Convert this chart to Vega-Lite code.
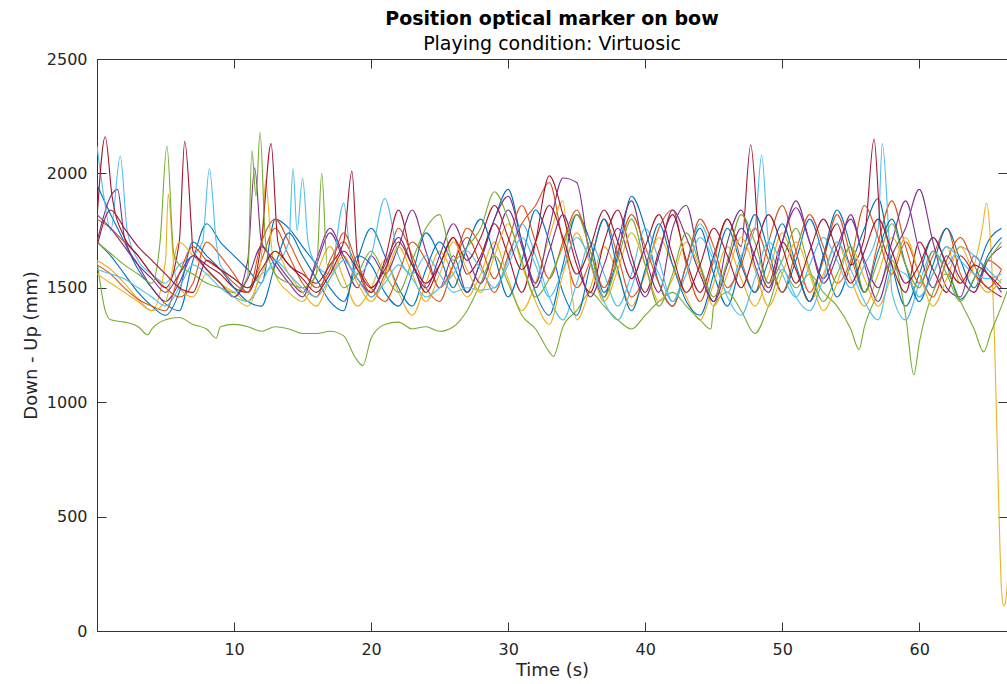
{
"$schema":"https://vega.github.io/schema/vega-lite/v6.json",
"width":910,"height":572,
"autosize":{"type":"none"},
"padding":{"left":97,"top":59,"right":0,"bottom":53},
"background":"white",
"title":{"text":"Position optical marker on bow","subtitle":"Playing condition: Virtuosic","font":"DejaVu Sans","fontSize":19,"fontWeight":"bold","color":"#000000","subtitleFont":"DejaVu Sans","subtitleFontSize":19,"subtitleColor":"#000000","anchor":"middle","frame":"group","offset":-3,"subtitlePadding":6},
"config":{"view":{"stroke":"#333333","strokeWidth":1},"axis":{"grid":false,"labelFont":"DejaVu Sans","labelFontSize":16,"titleFont":"DejaVu Sans","titleFontSize":18,"titleFontWeight":"normal","labelColor":"#262626","titleColor":"#262626","domainColor":"#333333","tickColor":"#333333"}},
"data":{"values":[
{"s":1,"t":0,"v":1950},{"s":1,"t":1,"v":1820},{"s":1,"t":2,"v":1700},{"s":1,"t":3,"v":1580},{"s":1,"t":4,"v":1500},{"s":1,"t":5,"v":1430},{"s":1,"t":6,"v":1400},{"s":1,"t":7,"v":1620},{"s":1,"t":8,"v":1780},{"s":1,"t":9,"v":1700},{"s":1,"t":10,"v":1640},{"s":1,"t":11,"v":1580},{"s":1,"t":12,"v":1520},{"s":1,"t":13,"v":1800},{"s":1,"t":14,"v":1760},{"s":1,"t":15,"v":1680},{"s":1,"t":16,"v":1600},{"s":1,"t":17,"v":1500},{"s":1,"t":18,"v":1440},{"s":1,"t":19,"v":1620},{"s":1,"t":20,"v":1760},{"s":1,"t":21,"v":1640},{"s":1,"t":22,"v":1500},{"s":1,"t":23,"v":1420},{"s":1,"t":24,"v":1580},{"s":1,"t":25,"v":1700},{"s":1,"t":26,"v":1600},{"s":1,"t":27,"v":1480},{"s":1,"t":28,"v":1620},{"s":1,"t":29,"v":1800},{"s":1,"t":30,"v":1930},{"s":1,"t":31,"v":1700},{"s":1,"t":32,"v":1480},{"s":1,"t":33,"v":1380},{"s":1,"t":34,"v":1600},{"s":1,"t":35,"v":1820},{"s":1,"t":36,"v":1700},{"s":1,"t":37,"v":1480},{"s":1,"t":38,"v":1640},{"s":1,"t":39,"v":1900},{"s":1,"t":40,"v":1760},{"s":1,"t":41,"v":1520},{"s":1,"t":42,"v":1420},{"s":1,"t":43,"v":1600},{"s":1,"t":44,"v":1760},{"s":1,"t":45,"v":1560},{"s":1,"t":46,"v":1420},{"s":1,"t":47,"v":1620},{"s":1,"t":48,"v":1820},{"s":1,"t":49,"v":1660},{"s":1,"t":50,"v":1480},{"s":1,"t":51,"v":1620},{"s":1,"t":52,"v":1800},{"s":1,"t":53,"v":1640},{"s":1,"t":54,"v":1460},{"s":1,"t":55,"v":1600},{"s":1,"t":56,"v":1760},{"s":1,"t":57,"v":1890},{"s":1,"t":58,"v":1600},{"s":1,"t":59,"v":1420},{"s":1,"t":60,"v":1560},{"s":1,"t":61,"v":1720},{"s":1,"t":62,"v":1600},{"s":1,"t":63,"v":1450},{"s":1,"t":64,"v":1540},{"s":1,"t":65,"v":1700},{"s":1,"t":66,"v":1760},
{"s":2,"t":0,"v":1800},{"s":2,"t":1,"v":1760},{"s":2,"t":2,"v":1700},{"s":2,"t":3,"v":1640},{"s":2,"t":4,"v":1560},{"s":2,"t":5,"v":1500},{"s":2,"t":6,"v":1460},{"s":2,"t":7,"v":1520},{"s":2,"t":8,"v":1700},{"s":2,"t":9,"v":1640},{"s":2,"t":10,"v":1560},{"s":2,"t":11,"v":1480},{"s":2,"t":12,"v":1620},{"s":2,"t":13,"v":1760},{"s":2,"t":14,"v":1640},{"s":2,"t":15,"v":1520},{"s":2,"t":16,"v":1460},{"s":2,"t":17,"v":1620},{"s":2,"t":18,"v":1700},{"s":2,"t":19,"v":1580},{"s":2,"t":20,"v":1460},{"s":2,"t":21,"v":1560},{"s":2,"t":22,"v":1760},{"s":2,"t":23,"v":1640},{"s":2,"t":24,"v":1500},{"s":2,"t":25,"v":1440},{"s":2,"t":26,"v":1600},{"s":2,"t":27,"v":1720},{"s":2,"t":28,"v":1600},{"s":2,"t":29,"v":1480},{"s":2,"t":30,"v":1640},{"s":2,"t":31,"v":1780},{"s":2,"t":32,"v":1860},{"s":2,"t":33,"v":1960},{"s":2,"t":34,"v":1700},{"s":2,"t":35,"v":1500},{"s":2,"t":36,"v":1620},{"s":2,"t":37,"v":1800},{"s":2,"t":38,"v":1640},{"s":2,"t":39,"v":1460},{"s":2,"t":40,"v":1560},{"s":2,"t":41,"v":1760},{"s":2,"t":42,"v":1840},{"s":2,"t":43,"v":1600},{"s":2,"t":44,"v":1440},{"s":2,"t":45,"v":1620},{"s":2,"t":46,"v":1800},{"s":2,"t":47,"v":1620},{"s":2,"t":48,"v":1480},{"s":2,"t":49,"v":1700},{"s":2,"t":50,"v":1860},{"s":2,"t":51,"v":1660},{"s":2,"t":52,"v":1480},{"s":2,"t":53,"v":1620},{"s":2,"t":54,"v":1820},{"s":2,"t":55,"v":1640},{"s":2,"t":56,"v":1480},{"s":2,"t":57,"v":1700},{"s":2,"t":58,"v":1880},{"s":2,"t":59,"v":1680},{"s":2,"t":60,"v":1520},{"s":2,"t":61,"v":1640},{"s":2,"t":62,"v":1760},{"s":2,"t":63,"v":1560},{"s":2,"t":64,"v":1480},{"s":2,"t":65,"v":1620},{"s":2,"t":66,"v":1580},
{"s":3,"t":0,"v":1620},{"s":3,"t":1,"v":1580},{"s":3,"t":2,"v":1520},{"s":3,"t":3,"v":1450},{"s":3,"t":4,"v":1400},{"s":3,"t":5,"v":1620},{"s":3,"t":5.2,"v":1910},{"s":3,"t":5.6,"v":1600},{"s":3,"t":6,"v":1500},{"s":3,"t":7,"v":1460},{"s":3,"t":8,"v":1560},{"s":3,"t":9,"v":1520},{"s":3,"t":10,"v":1460},{"s":3,"t":11,"v":1420},{"s":3,"t":12,"v":1640},{"s":3,"t":12.3,"v":1970},{"s":3,"t":12.7,"v":1700},{"s":3,"t":13,"v":1560},{"s":3,"t":14,"v":1480},{"s":3,"t":15,"v":1440},{"s":3,"t":16,"v":1560},{"s":3,"t":17,"v":1680},{"s":3,"t":18,"v":1540},{"s":3,"t":19,"v":1420},{"s":3,"t":20,"v":1500},{"s":3,"t":21,"v":1620},{"s":3,"t":22,"v":1480},{"s":3,"t":23,"v":1380},{"s":3,"t":24,"v":1520},{"s":3,"t":25,"v":1660},{"s":3,"t":26,"v":1560},{"s":3,"t":27,"v":1460},{"s":3,"t":28,"v":1560},{"s":3,"t":29,"v":1700},{"s":3,"t":30,"v":1540},{"s":3,"t":31,"v":1400},{"s":3,"t":32,"v":1520},{"s":3,"t":33,"v":1720},{"s":3,"t":34,"v":1880},{"s":3,"t":34.5,"v":1560},{"s":3,"t":35,"v":1360},{"s":3,"t":36,"v":1500},{"s":3,"t":37,"v":1680},{"s":3,"t":38,"v":1560},{"s":3,"t":39,"v":1420},{"s":3,"t":40,"v":1560},{"s":3,"t":41,"v":1720},{"s":3,"t":42,"v":1600},{"s":3,"t":43,"v":1460},{"s":3,"t":44,"v":1360},{"s":3,"t":45,"v":1520},{"s":3,"t":46,"v":1680},{"s":3,"t":47,"v":1540},{"s":3,"t":48,"v":1420},{"s":3,"t":49,"v":1560},{"s":3,"t":50,"v":1740},{"s":3,"t":51,"v":1580},{"s":3,"t":52,"v":1440},{"s":3,"t":53,"v":1560},{"s":3,"t":54,"v":1700},{"s":3,"t":55,"v":1540},{"s":3,"t":56,"v":1420},{"s":3,"t":57,"v":1560},{"s":3,"t":58,"v":1720},{"s":3,"t":59,"v":1600},{"s":3,"t":60,"v":1460},{"s":3,"t":61,"v":1560},{"s":3,"t":62,"v":1680},{"s":3,"t":63,"v":1520},{"s":3,"t":64,"v":1600},{"s":3,"t":64.6,"v":1760},{"s":3,"t":64.9,"v":1870},{"s":3,"t":65.2,"v":1700},{"s":3,"t":65.5,"v":1250},{"s":3,"t":65.8,"v":550},{"s":3,"t":66,"v":180},{"s":3,"t":66.15,"v":110},{"s":3,"t":66.3,"v":130},{"s":3,"t":66.5,"v":300},{"s":3,"t":66.7,"v":700},
{"s":4,"t":0,"v":1700},{"s":4,"t":1,"v":1900},{"s":4,"t":1.5,"v":1930},{"s":4,"t":2,"v":1720},{"s":4,"t":3,"v":1600},{"s":4,"t":4,"v":1500},{"s":4,"t":5,"v":1440},{"s":4,"t":6,"v":1520},{"s":4,"t":7,"v":1640},{"s":4,"t":8,"v":1580},{"s":4,"t":9,"v":1520},{"s":4,"t":10,"v":1460},{"s":4,"t":11,"v":1620},{"s":4,"t":11.5,"v":2025},{"s":4,"t":12,"v":1700},{"s":4,"t":13,"v":1620},{"s":4,"t":14,"v":1540},{"s":4,"t":15,"v":1480},{"s":4,"t":16,"v":1600},{"s":4,"t":17,"v":1740},{"s":4,"t":18,"v":1620},{"s":4,"t":19,"v":1500},{"s":4,"t":20,"v":1640},{"s":4,"t":21,"v":1560},{"s":4,"t":22,"v":1680},{"s":4,"t":23,"v":1840},{"s":4,"t":24,"v":1660},{"s":4,"t":25,"v":1500},{"s":4,"t":26,"v":1640},{"s":4,"t":27,"v":1480},{"s":4,"t":28,"v":1620},{"s":4,"t":29,"v":1800},{"s":4,"t":30,"v":1900},{"s":4,"t":31,"v":1700},{"s":4,"t":32,"v":1520},{"s":4,"t":33,"v":1760},{"s":4,"t":34,"v":1980},{"s":4,"t":35,"v":1960},{"s":4,"t":36,"v":1620},{"s":4,"t":37,"v":1460},{"s":4,"t":38,"v":1700},{"s":4,"t":39,"v":1880},{"s":4,"t":40,"v":1640},{"s":4,"t":41,"v":1480},{"s":4,"t":42,"v":1760},{"s":4,"t":43,"v":1860},{"s":4,"t":44,"v":1600},{"s":4,"t":45,"v":1440},{"s":4,"t":46,"v":1700},{"s":4,"t":47,"v":1840},{"s":4,"t":48,"v":1600},{"s":4,"t":49,"v":1480},{"s":4,"t":50,"v":1700},{"s":4,"t":51,"v":1880},{"s":4,"t":52,"v":1700},{"s":4,"t":53,"v":1520},{"s":4,"t":54,"v":1640},{"s":4,"t":55,"v":1820},{"s":4,"t":56,"v":1600},{"s":4,"t":57,"v":1440},{"s":4,"t":58,"v":1640},{"s":4,"t":59,"v":1760},{"s":4,"t":60,"v":1930},{"s":4,"t":61,"v":1700},{"s":4,"t":62,"v":1500},{"s":4,"t":63,"v":1460},{"s":4,"t":64,"v":1640},{"s":4,"t":65,"v":1560},{"s":4,"t":66,"v":1480},
{"s":5,"t":0,"v":1620},{"s":5,"t":0.6,"v":1400},{"s":5,"t":1,"v":1360},{"s":5,"t":2,"v":1350},{"s":5,"t":3,"v":1330},{"s":5,"t":3.7,"v":1295},{"s":5,"t":4,"v":1320},{"s":5,"t":5,"v":1360},{"s":5,"t":6,"v":1370},{"s":5,"t":7,"v":1340},{"s":5,"t":8,"v":1320},{"s":5,"t":8.7,"v":1280},{"s":5,"t":9,"v":1330},{"s":5,"t":10,"v":1340},{"s":5,"t":11,"v":1330},{"s":5,"t":12,"v":1310},{"s":5,"t":13,"v":1330},{"s":5,"t":14,"v":1320},{"s":5,"t":15,"v":1300},{"s":5,"t":16,"v":1300},{"s":5,"t":17,"v":1310},{"s":5,"t":18,"v":1290},{"s":5,"t":18.8,"v":1200},{"s":5,"t":19.4,"v":1160},{"s":5,"t":20,"v":1280},{"s":5,"t":21,"v":1340},{"s":5,"t":22,"v":1350},{"s":5,"t":23,"v":1320},{"s":5,"t":24,"v":1330},{"s":5,"t":25,"v":1310},{"s":5,"t":26,"v":1330},{"s":5,"t":27,"v":1400},{"s":5,"t":28,"v":1520},{"s":5,"t":29,"v":1640},{"s":5,"t":30,"v":1520},{"s":5,"t":31,"v":1380},{"s":5,"t":32,"v":1320},{"s":5,"t":33,"v":1220},{"s":5,"t":33.3,"v":1200},{"s":5,"t":34,"v":1330},{"s":5,"t":35,"v":1400},{"s":5,"t":36,"v":1480},{"s":5,"t":37,"v":1420},{"s":5,"t":38,"v":1360},{"s":5,"t":39,"v":1320},{"s":5,"t":40,"v":1380},{"s":5,"t":41,"v":1440},{"s":5,"t":42,"v":1480},{"s":5,"t":43,"v":1420},{"s":5,"t":44,"v":1360},{"s":5,"t":44.8,"v":1320},{"s":5,"t":45,"v":1420},{"s":5,"t":46,"v":1480},{"s":5,"t":47,"v":1400},{"s":5,"t":48,"v":1300},{"s":5,"t":49,"v":1420},{"s":5,"t":50,"v":1580},{"s":5,"t":51,"v":1500},{"s":5,"t":52,"v":1560},{"s":5,"t":53,"v":1480},{"s":5,"t":54,"v":1420},{"s":5,"t":55,"v":1320},{"s":5,"t":55.6,"v":1230},{"s":5,"t":56,"v":1330},{"s":5,"t":57,"v":1480},{"s":5,"t":58,"v":1620},{"s":5,"t":59,"v":1380},{"s":5,"t":59.6,"v":1120},{"s":5,"t":60,"v":1260},{"s":5,"t":61,"v":1480},{"s":5,"t":62,"v":1560},{"s":5,"t":63,"v":1440},{"s":5,"t":64,"v":1320},{"s":5,"t":64.7,"v":1220},{"s":5,"t":65.2,"v":1300},{"s":5,"t":66,"v":1420},{"s":5,"t":66.5,"v":1500},
{"s":6,"t":0,"v":2120},{"s":6,"t":0.5,"v":1900},{"s":6,"t":1,"v":1750},{"s":6,"t":1.7,"v":2075},{"s":6,"t":2.2,"v":1750},{"s":6,"t":3,"v":1620},{"s":6,"t":4,"v":1560},{"s":6,"t":5,"v":1520},{"s":6,"t":6,"v":1600},{"s":6,"t":7,"v":1640},{"s":6,"t":7.7,"v":1700},{"s":6,"t":8.2,"v":2020},{"s":6,"t":8.7,"v":1700},{"s":6,"t":9,"v":1600},{"s":6,"t":10,"v":1540},{"s":6,"t":11,"v":1500},{"s":6,"t":12,"v":1560},{"s":6,"t":13,"v":1600},{"s":6,"t":14,"v":1700},{"s":6,"t":14.3,"v":2020},{"s":6,"t":14.6,"v":1750},{"s":6,"t":15,"v":1980},{"s":6,"t":15.4,"v":1700},{"s":6,"t":16,"v":1600},{"s":6,"t":17,"v":1560},{"s":6,"t":18,"v":1870},{"s":6,"t":18.5,"v":1640},{"s":6,"t":19,"v":1560},{"s":6,"t":20,"v":1640},{"s":6,"t":21,"v":1890},{"s":6,"t":22,"v":1640},{"s":6,"t":23,"v":1560},{"s":6,"t":24,"v":1640},{"s":6,"t":25,"v":1560},{"s":6,"t":26,"v":1480},{"s":6,"t":27,"v":1500},{"s":6,"t":28,"v":1490},{"s":6,"t":29,"v":1500},{"s":6,"t":30,"v":1620},{"s":6,"t":31,"v":1780},{"s":6,"t":32,"v":1640},{"s":6,"t":33,"v":1460},{"s":6,"t":34,"v":1360},{"s":6,"t":35,"v":1520},{"s":6,"t":36,"v":1700},{"s":6,"t":37,"v":1560},{"s":6,"t":38,"v":1420},{"s":6,"t":39,"v":1560},{"s":6,"t":40,"v":1760},{"s":6,"t":41,"v":1620},{"s":6,"t":42,"v":1440},{"s":6,"t":43,"v":1600},{"s":6,"t":44,"v":1780},{"s":6,"t":45,"v":1640},{"s":6,"t":46,"v":1480},{"s":6,"t":47,"v":1640},{"s":6,"t":48,"v":1760},{"s":6,"t":48.5,"v":2080},{"s":6,"t":49,"v":1700},{"s":6,"t":50,"v":1560},{"s":6,"t":51,"v":1460},{"s":6,"t":52,"v":1600},{"s":6,"t":53,"v":1720},{"s":6,"t":54,"v":1620},{"s":6,"t":55,"v":1500},{"s":6,"t":56,"v":1600},{"s":6,"t":57,"v":1760},{"s":6,"t":57.3,"v":2130},{"s":6,"t":57.8,"v":1700},{"s":6,"t":58,"v":1480},{"s":6,"t":59,"v":1360},{"s":6,"t":60,"v":1520},{"s":6,"t":61,"v":1660},{"s":6,"t":62,"v":1600},{"s":6,"t":63,"v":1680},{"s":6,"t":64,"v":1640},{"s":6,"t":65,"v":1580},{"s":6,"t":66,"v":1520},
{"s":7,"t":0,"v":1800},{"s":7,"t":0.6,"v":2160},{"s":7,"t":1.1,"v":1900},{"s":7,"t":2,"v":1720},{"s":7,"t":3,"v":1640},{"s":7,"t":4,"v":1560},{"s":7,"t":5,"v":1500},{"s":7,"t":6,"v":1700},{"s":7,"t":6.4,"v":2140},{"s":7,"t":6.9,"v":1750},{"s":7,"t":7,"v":1660},{"s":7,"t":8,"v":1600},{"s":7,"t":9,"v":1560},{"s":7,"t":10,"v":1500},{"s":7,"t":11,"v":1480},{"s":7,"t":12,"v":1700},{"s":7,"t":12.7,"v":2130},{"s":7,"t":13.2,"v":1700},{"s":7,"t":14,"v":1600},{"s":7,"t":15,"v":1560},{"s":7,"t":16,"v":1520},{"s":7,"t":17,"v":1600},{"s":7,"t":18,"v":1700},{"s":7,"t":18.6,"v":2010},{"s":7,"t":19,"v":1640},{"s":7,"t":20,"v":1480},{"s":7,"t":21,"v":1620},{"s":7,"t":22,"v":1840},{"s":7,"t":23,"v":1620},{"s":7,"t":24,"v":1480},{"s":7,"t":25,"v":1600},{"s":7,"t":26,"v":1720},{"s":7,"t":27,"v":1560},{"s":7,"t":28,"v":1640},{"s":7,"t":29,"v":1780},{"s":7,"t":30,"v":1640},{"s":7,"t":31,"v":1480},{"s":7,"t":32,"v":1700},{"s":7,"t":33,"v":1990},{"s":7,"t":34,"v":1820},{"s":7,"t":35,"v":1600},{"s":7,"t":36,"v":1480},{"s":7,"t":37,"v":1700},{"s":7,"t":38,"v":1840},{"s":7,"t":39,"v":1640},{"s":7,"t":40,"v":1480},{"s":7,"t":41,"v":1660},{"s":7,"t":42,"v":1820},{"s":7,"t":43,"v":1620},{"s":7,"t":44,"v":1480},{"s":7,"t":45,"v":1640},{"s":7,"t":46,"v":1800},{"s":7,"t":47,"v":1680},{"s":7,"t":47.7,"v":2125},{"s":7,"t":48.3,"v":1700},{"s":7,"t":49,"v":1520},{"s":7,"t":50,"v":1700},{"s":7,"t":51,"v":1580},{"s":7,"t":52,"v":1440},{"s":7,"t":53,"v":1640},{"s":7,"t":54,"v":1780},{"s":7,"t":55,"v":1600},{"s":7,"t":56,"v":1720},{"s":7,"t":56.7,"v":2150},{"s":7,"t":57.2,"v":1740},{"s":7,"t":58,"v":1600},{"s":7,"t":59,"v":1480},{"s":7,"t":60,"v":1700},{"s":7,"t":61,"v":1580},{"s":7,"t":62,"v":1480},{"s":7,"t":63,"v":1640},{"s":7,"t":64,"v":1560},{"s":7,"t":65,"v":1500},{"s":7,"t":66,"v":1460},
{"s":8,"t":0,"v":1700},{"s":8,"t":1,"v":1640},{"s":8,"t":2,"v":1560},{"s":8,"t":3,"v":1480},{"s":8,"t":4,"v":1420},{"s":8,"t":5,"v":1380},{"s":8,"t":6,"v":1480},{"s":8,"t":7,"v":1700},{"s":8,"t":8,"v":1640},{"s":8,"t":9,"v":1580},{"s":8,"t":10,"v":1500},{"s":8,"t":11,"v":1440},{"s":8,"t":12,"v":1420},{"s":8,"t":13,"v":1600},{"s":8,"t":14,"v":1740},{"s":8,"t":15,"v":1640},{"s":8,"t":16,"v":1540},{"s":8,"t":17,"v":1440},{"s":8,"t":18,"v":1400},{"s":8,"t":19,"v":1640},{"s":8,"t":20,"v":1600},{"s":8,"t":21,"v":1480},{"s":8,"t":22,"v":1420},{"s":8,"t":23,"v":1560},{"s":8,"t":24,"v":1740},{"s":8,"t":25,"v":1640},{"s":8,"t":26,"v":1500},{"s":8,"t":27,"v":1680},{"s":8,"t":28,"v":1800},{"s":8,"t":29,"v":1640},{"s":8,"t":30,"v":1460},{"s":8,"t":31,"v":1620},{"s":8,"t":32,"v":1840},{"s":8,"t":33,"v":1700},{"s":8,"t":34,"v":1480},{"s":8,"t":35,"v":1380},{"s":8,"t":36,"v":1600},{"s":8,"t":37,"v":1800},{"s":8,"t":38,"v":1580},{"s":8,"t":39,"v":1400},{"s":8,"t":40,"v":1580},{"s":8,"t":41,"v":1780},{"s":8,"t":42,"v":1600},{"s":8,"t":43,"v":1440},{"s":8,"t":44,"v":1380},{"s":8,"t":45,"v":1560},{"s":8,"t":46,"v":1760},{"s":8,"t":47,"v":1600},{"s":8,"t":48,"v":1480},{"s":8,"t":49,"v":1620},{"s":8,"t":50,"v":1780},{"s":8,"t":51,"v":1600},{"s":8,"t":52,"v":1440},{"s":8,"t":53,"v":1640},{"s":8,"t":54,"v":1840},{"s":8,"t":55,"v":1680},{"s":8,"t":56,"v":1480},{"s":8,"t":57,"v":1660},{"s":8,"t":58,"v":1800},{"s":8,"t":59,"v":1600},{"s":8,"t":60,"v":1440},{"s":8,"t":61,"v":1600},{"s":8,"t":62,"v":1760},{"s":8,"t":63,"v":1620},{"s":8,"t":64,"v":1500},{"s":8,"t":65,"v":1640},{"s":8,"t":66,"v":1720},
{"s":9,"t":0,"v":1600},{"s":9,"t":1,"v":1560},{"s":9,"t":2,"v":1500},{"s":9,"t":3,"v":1450},{"s":9,"t":4,"v":1420},{"s":9,"t":5,"v":1400},{"s":9,"t":6,"v":1560},{"s":9,"t":7,"v":1680},{"s":9,"t":8,"v":1620},{"s":9,"t":9,"v":1580},{"s":9,"t":10,"v":1520},{"s":9,"t":11,"v":1480},{"s":9,"t":12,"v":1700},{"s":9,"t":13,"v":1800},{"s":9,"t":14,"v":1700},{"s":9,"t":15,"v":1580},{"s":9,"t":16,"v":1500},{"s":9,"t":17,"v":1580},{"s":9,"t":18,"v":1740},{"s":9,"t":19,"v":1600},{"s":9,"t":20,"v":1500},{"s":9,"t":21,"v":1440},{"s":9,"t":22,"v":1560},{"s":9,"t":23,"v":1700},{"s":9,"t":24,"v":1620},{"s":9,"t":25,"v":1500},{"s":9,"t":26,"v":1600},{"s":9,"t":27,"v":1760},{"s":9,"t":28,"v":1680},{"s":9,"t":29,"v":1540},{"s":9,"t":30,"v":1700},{"s":9,"t":31,"v":1860},{"s":9,"t":32,"v":1700},{"s":9,"t":33,"v":1540},{"s":9,"t":34,"v":1700},{"s":9,"t":35,"v":1840},{"s":9,"t":36,"v":1660},{"s":9,"t":37,"v":1500},{"s":9,"t":38,"v":1660},{"s":9,"t":39,"v":1820},{"s":9,"t":40,"v":1680},{"s":9,"t":41,"v":1520},{"s":9,"t":42,"v":1420},{"s":9,"t":43,"v":1600},{"s":9,"t":44,"v":1800},{"s":9,"t":45,"v":1680},{"s":9,"t":46,"v":1500},{"s":9,"t":47,"v":1600},{"s":9,"t":48,"v":1760},{"s":9,"t":49,"v":1620},{"s":9,"t":50,"v":1480},{"s":9,"t":51,"v":1660},{"s":9,"t":52,"v":1820},{"s":9,"t":53,"v":1680},{"s":9,"t":54,"v":1520},{"s":9,"t":55,"v":1620},{"s":9,"t":56,"v":1860},{"s":9,"t":57,"v":1720},{"s":9,"t":58,"v":1560},{"s":9,"t":59,"v":1700},{"s":9,"t":60,"v":1560},{"s":9,"t":61,"v":1460},{"s":9,"t":62,"v":1620},{"s":9,"t":63,"v":1720},{"s":9,"t":64,"v":1600},{"s":9,"t":65,"v":1500},{"s":9,"t":66,"v":1580},
{"s":10,"t":0,"v":1560},{"s":10,"t":1,"v":1520},{"s":10,"t":2,"v":1480},{"s":10,"t":3,"v":1440},{"s":10,"t":4,"v":1400},{"s":10,"t":5,"v":1440},{"s":10,"t":6,"v":1700},{"s":10,"t":7,"v":1640},{"s":10,"t":8,"v":1580},{"s":10,"t":9,"v":1520},{"s":10,"t":10,"v":1480},{"s":10,"t":11,"v":1440},{"s":10,"t":12,"v":1560},{"s":10,"t":13,"v":1660},{"s":10,"t":14,"v":1560},{"s":10,"t":15,"v":1480},{"s":10,"t":16,"v":1420},{"s":10,"t":17,"v":1540},{"s":10,"t":18,"v":1640},{"s":10,"t":19,"v":1520},{"s":10,"t":20,"v":1440},{"s":10,"t":21,"v":1540},{"s":10,"t":22,"v":1680},{"s":10,"t":23,"v":1560},{"s":10,"t":24,"v":1440},{"s":10,"t":25,"v":1560},{"s":10,"t":26,"v":1700},{"s":10,"t":27,"v":1580},{"s":10,"t":28,"v":1480},{"s":10,"t":29,"v":1640},{"s":10,"t":30,"v":1780},{"s":10,"t":31,"v":1600},{"s":10,"t":32,"v":1440},{"s":10,"t":33,"v":1340},{"s":10,"t":34,"v":1560},{"s":10,"t":35,"v":1740},{"s":10,"t":36,"v":1600},{"s":10,"t":37,"v":1440},{"s":10,"t":38,"v":1580},{"s":10,"t":39,"v":1740},{"s":10,"t":40,"v":1600},{"s":10,"t":41,"v":1440},{"s":10,"t":42,"v":1540},{"s":10,"t":43,"v":1700},{"s":10,"t":44,"v":1580},{"s":10,"t":45,"v":1420},{"s":10,"t":46,"v":1560},{"s":10,"t":47,"v":1720},{"s":10,"t":48,"v":1580},{"s":10,"t":49,"v":1420},{"s":10,"t":50,"v":1560},{"s":10,"t":51,"v":1700},{"s":10,"t":52,"v":1560},{"s":10,"t":53,"v":1400},{"s":10,"t":54,"v":1520},{"s":10,"t":55,"v":1680},{"s":10,"t":56,"v":1540},{"s":10,"t":57,"v":1420},{"s":10,"t":58,"v":1560},{"s":10,"t":59,"v":1720},{"s":10,"t":60,"v":1560},{"s":10,"t":61,"v":1420},{"s":10,"t":62,"v":1540},{"s":10,"t":63,"v":1680},{"s":10,"t":64,"v":1560},{"s":10,"t":65,"v":1480},{"s":10,"t":66,"v":1540},
{"s":11,"t":0,"v":1820},{"s":11,"t":1,"v":1760},{"s":11,"t":2,"v":1680},{"s":11,"t":3,"v":1600},{"s":11,"t":4,"v":1540},{"s":11,"t":5,"v":1480},{"s":11,"t":6,"v":1560},{"s":11,"t":7,"v":1640},{"s":11,"t":8,"v":1580},{"s":11,"t":9,"v":1520},{"s":11,"t":10,"v":1460},{"s":11,"t":11,"v":1540},{"s":11,"t":12,"v":1680},{"s":11,"t":13,"v":1600},{"s":11,"t":14,"v":1520},{"s":11,"t":15,"v":1460},{"s":11,"t":16,"v":1620},{"s":11,"t":17,"v":1760},{"s":11,"t":18,"v":1640},{"s":11,"t":19,"v":1540},{"s":11,"t":20,"v":1480},{"s":11,"t":21,"v":1600},{"s":11,"t":22,"v":1720},{"s":11,"t":23,"v":1600},{"s":11,"t":24,"v":1500},{"s":11,"t":25,"v":1640},{"s":11,"t":26,"v":1780},{"s":11,"t":27,"v":1640},{"s":11,"t":28,"v":1520},{"s":11,"t":29,"v":1680},{"s":11,"t":30,"v":1840},{"s":11,"t":31,"v":1680},{"s":11,"t":32,"v":1500},{"s":11,"t":33,"v":1660},{"s":11,"t":34,"v":1820},{"s":11,"t":35,"v":1640},{"s":11,"t":36,"v":1460},{"s":11,"t":37,"v":1600},{"s":11,"t":38,"v":1760},{"s":11,"t":39,"v":1600},{"s":11,"t":40,"v":1460},{"s":11,"t":41,"v":1640},{"s":11,"t":42,"v":1840},{"s":11,"t":43,"v":1720},{"s":11,"t":44,"v":1560},{"s":11,"t":45,"v":1440},{"s":11,"t":46,"v":1600},{"s":11,"t":47,"v":1760},{"s":11,"t":48,"v":1640},{"s":11,"t":49,"v":1500},{"s":11,"t":50,"v":1700},{"s":11,"t":51,"v":1850},{"s":11,"t":52,"v":1700},{"s":11,"t":53,"v":1540},{"s":11,"t":54,"v":1680},{"s":11,"t":55,"v":1800},{"s":11,"t":56,"v":1620},{"s":11,"t":57,"v":1500},{"s":11,"t":58,"v":1700},{"s":11,"t":59,"v":1880},{"s":11,"t":60,"v":1660},{"s":11,"t":61,"v":1500},{"s":11,"t":62,"v":1640},{"s":11,"t":63,"v":1540},{"s":11,"t":64,"v":1480},{"s":11,"t":65,"v":1620},{"s":11,"t":66,"v":1680},
{"s":12,"t":0,"v":1700},{"s":12,"t":1,"v":1650},{"s":12,"t":2,"v":1600},{"s":12,"t":3,"v":1560},{"s":12,"t":4,"v":1520},{"s":12,"t":4.6,"v":1700},{"s":12,"t":5.1,"v":2120},{"s":12,"t":5.6,"v":1650},{"s":12,"t":6,"v":1600},{"s":12,"t":7,"v":1560},{"s":12,"t":8,"v":1520},{"s":12,"t":9,"v":1500},{"s":12,"t":10,"v":1480},{"s":12,"t":11,"v":1550},{"s":12,"t":11.3,"v":2100},{"s":12,"t":11.6,"v":1900},{"s":12,"t":11.9,"v":2180},{"s":12,"t":12.3,"v":1700},{"s":12,"t":13,"v":1560},{"s":12,"t":14,"v":1520},{"s":12,"t":15,"v":1500},{"s":12,"t":16,"v":1560},{"s":12,"t":16.4,"v":2000},{"s":12,"t":16.8,"v":1600},{"s":12,"t":17,"v":1600},{"s":12,"t":18,"v":1500},{"s":12,"t":19,"v":1560},{"s":12,"t":20,"v":1660},{"s":12,"t":21,"v":1560},{"s":12,"t":22,"v":1480},{"s":12,"t":23,"v":1620},{"s":12,"t":24,"v":1760},{"s":12,"t":25,"v":1820},{"s":12,"t":26,"v":1620},{"s":12,"t":27,"v":1680},{"s":12,"t":28,"v":1760},{"s":12,"t":29,"v":1920},{"s":12,"t":30,"v":1800},{"s":12,"t":31,"v":1620},{"s":12,"t":32,"v":1460},{"s":12,"t":33,"v":1540},{"s":12,"t":34,"v":1680},{"s":12,"t":35,"v":1820},{"s":12,"t":36,"v":1660},{"s":12,"t":37,"v":1460},{"s":12,"t":38,"v":1620},{"s":12,"t":39,"v":1800},{"s":12,"t":40,"v":1600},{"s":12,"t":41,"v":1420},{"s":12,"t":42,"v":1560},{"s":12,"t":43,"v":1740},{"s":12,"t":44,"v":1600},{"s":12,"t":45,"v":1460},{"s":12,"t":46,"v":1620},{"s":12,"t":47,"v":1820},{"s":12,"t":48,"v":1700},{"s":12,"t":49,"v":1520},{"s":12,"t":50,"v":1620},{"s":12,"t":51,"v":1760},{"s":12,"t":52,"v":1580},{"s":12,"t":53,"v":1440},{"s":12,"t":54,"v":1560},{"s":12,"t":55,"v":1680},{"s":12,"t":56,"v":1480},{"s":12,"t":57,"v":1620},{"s":12,"t":58,"v":1780},{"s":12,"t":59,"v":1600},{"s":12,"t":60,"v":1500},{"s":12,"t":61,"v":1660},{"s":12,"t":62,"v":1560},{"s":12,"t":63,"v":1440},{"s":12,"t":64,"v":1540},{"s":12,"t":65,"v":1620},{"s":12,"t":66,"v":1700},
{"s":13,"t":0,"v":1580},{"s":13,"t":1,"v":1560},{"s":13,"t":2,"v":1540},{"s":13,"t":3,"v":1500},{"s":13,"t":4,"v":1460},{"s":13,"t":5,"v":1420},{"s":13,"t":6,"v":1500},{"s":13,"t":7,"v":1600},{"s":13,"t":8,"v":1560},{"s":13,"t":9,"v":1500},{"s":13,"t":10,"v":1460},{"s":13,"t":11,"v":1440},{"s":13,"t":12,"v":1520},{"s":13,"t":13,"v":1620},{"s":13,"t":14,"v":1560},{"s":13,"t":15,"v":1500},{"s":13,"t":16,"v":1460},{"s":13,"t":17,"v":1540},{"s":13,"t":18,"v":1620},{"s":13,"t":19,"v":1540},{"s":13,"t":20,"v":1460},{"s":13,"t":21,"v":1520},{"s":13,"t":22,"v":1600},{"s":13,"t":23,"v":1540},{"s":13,"t":24,"v":1460},{"s":13,"t":25,"v":1500},{"s":13,"t":26,"v":1560},{"s":13,"t":27,"v":1660},{"s":13,"t":28,"v":1580},{"s":13,"t":29,"v":1500},{"s":13,"t":30,"v":1600},{"s":13,"t":31,"v":1720},{"s":13,"t":32,"v":1600},{"s":13,"t":33,"v":1460},{"s":13,"t":34,"v":1580},{"s":13,"t":35,"v":1720},{"s":13,"t":36,"v":1620},{"s":13,"t":37,"v":1440},{"s":13,"t":38,"v":1360},{"s":13,"t":39,"v":1500},{"s":13,"t":40,"v":1660},{"s":13,"t":41,"v":1560},{"s":13,"t":42,"v":1440},{"s":13,"t":43,"v":1560},{"s":13,"t":44,"v":1720},{"s":13,"t":45,"v":1620},{"s":13,"t":46,"v":1460},{"s":13,"t":47,"v":1380},{"s":13,"t":48,"v":1540},{"s":13,"t":49,"v":1700},{"s":13,"t":50,"v":1600},{"s":13,"t":51,"v":1460},{"s":13,"t":52,"v":1400},{"s":13,"t":53,"v":1540},{"s":13,"t":54,"v":1700},{"s":13,"t":55,"v":1580},{"s":13,"t":56,"v":1440},{"s":13,"t":57,"v":1360},{"s":13,"t":58,"v":1580},{"s":13,"t":59,"v":1560},{"s":13,"t":60,"v":1460},{"s":13,"t":61,"v":1560},{"s":13,"t":62,"v":1680},{"s":13,"t":63,"v":1620},{"s":13,"t":64,"v":1560},{"s":13,"t":65,"v":1540},{"s":13,"t":66,"v":1560},
{"s":14,"t":0,"v":1680},{"s":14,"t":1,"v":1840},{"s":14,"t":2,"v":1760},{"s":14,"t":3,"v":1680},{"s":14,"t":4,"v":1620},{"s":14,"t":5,"v":1560},{"s":14,"t":6,"v":1500},{"s":14,"t":7,"v":1480},{"s":14,"t":8,"v":1620},{"s":14,"t":9,"v":1580},{"s":14,"t":10,"v":1540},{"s":14,"t":11,"v":1500},{"s":14,"t":12,"v":1580},{"s":14,"t":13,"v":1660},{"s":14,"t":14,"v":1600},{"s":14,"t":15,"v":1540},{"s":14,"t":16,"v":1480},{"s":14,"t":17,"v":1560},{"s":14,"t":18,"v":1660},{"s":14,"t":19,"v":1580},{"s":14,"t":20,"v":1500},{"s":14,"t":21,"v":1580},{"s":14,"t":22,"v":1700},{"s":14,"t":23,"v":1600},{"s":14,"t":24,"v":1520},{"s":14,"t":25,"v":1600},{"s":14,"t":26,"v":1720},{"s":14,"t":27,"v":1620},{"s":14,"t":28,"v":1720},{"s":14,"t":29,"v":1860},{"s":14,"t":30,"v":1720},{"s":14,"t":31,"v":1580},{"s":14,"t":32,"v":1700},{"s":14,"t":33,"v":1860},{"s":14,"t":34,"v":1720},{"s":14,"t":35,"v":1560},{"s":14,"t":36,"v":1680},{"s":14,"t":37,"v":1840},{"s":14,"t":38,"v":1700},{"s":14,"t":39,"v":1540},{"s":14,"t":40,"v":1680},{"s":14,"t":41,"v":1820},{"s":14,"t":42,"v":1640},{"s":14,"t":43,"v":1480},{"s":14,"t":44,"v":1600},{"s":14,"t":45,"v":1760},{"s":14,"t":46,"v":1640},{"s":14,"t":47,"v":1500},{"s":14,"t":48,"v":1660},{"s":14,"t":49,"v":1820},{"s":14,"t":50,"v":1680},{"s":14,"t":51,"v":1520},{"s":14,"t":52,"v":1660},{"s":14,"t":53,"v":1800},{"s":14,"t":54,"v":1660},{"s":14,"t":55,"v":1520},{"s":14,"t":56,"v":1660},{"s":14,"t":57,"v":1800},{"s":14,"t":58,"v":1660},{"s":14,"t":59,"v":1520},{"s":14,"t":60,"v":1600},{"s":14,"t":61,"v":1720},{"s":14,"t":62,"v":1600},{"s":14,"t":63,"v":1520},{"s":14,"t":64,"v":1600},{"s":14,"t":65,"v":1560},{"s":14,"t":66,"v":1500}
]},
"layer":[
{"mark":{"type":"line","interpolate":"monotone","strokeWidth":1.1,"clip":true},
 "encoding":{
  "x":{"field":"t","type":"quantitative","scale":{"domain":[0,66.4],"nice":false,"zero":false},"axis":{"values":[10,20,30,40,50,60],"title":"Time (s)","tickSize":-9,"labelPadding":19,"titlePadding":4}},
  "y":{"field":"v","type":"quantitative","scale":{"domain":[0,2500],"nice":false},"axis":{"values":[0,500,1000,1500,2000,2500],"format":"d","title":"Down - Up (mm)","tickSize":-9,"labelPadding":19,"titlePadding":6}},
  "color":{"field":"s","type":"nominal","scale":{"domain":[1,2,3,4,5,6,7,8,9,10,11,12,13,14],"range":["#0072BD","#D95319","#EDB120","#7E2F8E","#77AC30","#4DBEEE","#A2142F","#0072BD","#D95319","#EDB120","#7E2F8E","#77AC30","#4DBEEE","#A2142F"]},"legend":null}
 }},
{"mark":{"type":"line","opacity":0,"clip":true},
 "encoding":{
  "x":{"field":"t","type":"quantitative","axis":{"orient":"top","values":[10,20,30,40,50,60],"labels":false,"title":null,"tickSize":-9,"domain":false}},
  "y":{"field":"v","type":"quantitative","axis":{"orient":"right","values":[0,500,1000,1500,2000,2500],"labels":false,"title":null,"tickSize":-9,"domain":false}},
  "detail":{"field":"s","type":"nominal"}
 }}
],
"resolve":{"axis":{"x":"independent","y":"independent"}}
}
